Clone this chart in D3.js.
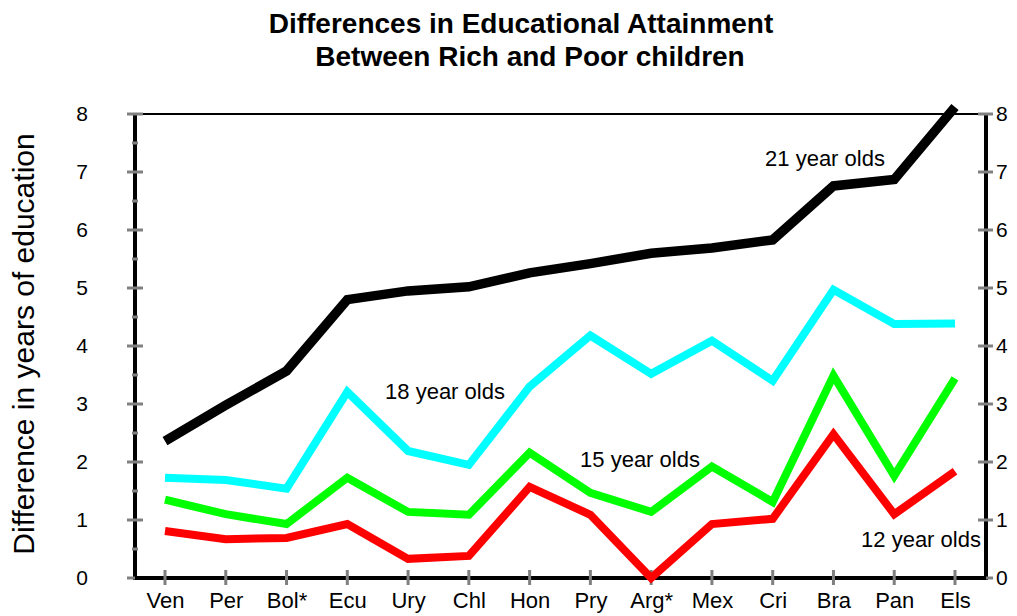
<!DOCTYPE html>
<html><head><meta charset="utf-8">
<script src="https://cdn.jsdelivr.net/npm/d3@7"></script>
<style>body{margin:0;background:#fff;} svg{display:block;font-family:"Liberation Sans",Arial,sans-serif;}</style>
</head><body>
<script>
const categories = ["Ven","Per","Bol*","Ecu","Ury","Chl","Hon","Pry","Arg*","Mex","Cri","Bra","Pan","Els"];
const age21 = [2.36,2.98,3.57,4.80,4.95,5.02,5.26,5.42,5.60,5.69,5.83,6.76,6.87,8.12];
const age18 = [1.73,1.69,1.54,3.21,2.19,1.95,3.30,4.18,3.52,4.09,3.40,4.97,4.38,4.39];
const age15 = [1.35,1.10,0.93,1.73,1.14,1.09,2.16,1.47,1.14,1.92,1.31,3.49,1.76,3.44];
const age12 = [0.81,0.67,0.69,0.93,0.33,0.38,1.57,1.09,0.00,0.93,1.02,2.48,1.10,1.84];
const yTicks = [0,1,2,3,4,5,6,7,8];
const seriesNames = ["21 year olds","18 year olds","15 year olds","12 year olds"];

const W=1017,H=616;
const svg=d3.select("body").append("svg").attr("width",W).attr("height",H);
const pL=135,pR=986,pT=114,pB=578;
const x=d3.scalePoint().domain(categories).range([165,955]);
const y=d3.scaleLinear().domain([0,8]).range([pB,pT]);
const FF="Liberation Sans, Arial, sans-serif";

// title
svg.append("text").attr("x",521).attr("y",33).attr("text-anchor","middle").attr("font-weight","bold").attr("font-size",28).text("Differences in Educational Attainment");
svg.append("text").attr("x",530).attr("y",66).attr("text-anchor","middle").attr("font-weight","bold").attr("font-size",28).text("Between Rich and Poor children");

// top border
svg.append("line").attr("x1",pL).attr("x2",pR).attr("y1",y(8)).attr("y2",y(8)).attr("stroke","#000").attr("stroke-width",2);

// left axis
const gl=svg.append("g").attr("transform",`translate(${pL},0)`);
gl.call(d3.axisLeft(y).tickValues(yTicks).tickFormat(d3.format("d")).tickSize(0).tickPadding(53));
gl.select(".domain").remove();
gl.selectAll("text").attr("font-size",21).attr("font-family",FF).attr("fill","#000").attr("text-anchor","middle");
gl.append("line").attr("x1",0).attr("x2",0).attr("y1",pT-1).attr("y2",pB+2).attr("stroke","#000").attr("stroke-width",4);
const halfTicks=d3.range(0.5,8,1);
gl.selectAll(".maj").data(yTicks).join("line").attr("class","maj").attr("x1",-8).attr("x2",8).attr("y1",d=>y(d)).attr("y2",d=>y(d)).attr("stroke","#808080").attr("stroke-width",3);
gl.selectAll(".min").data(halfTicks).join("line").attr("class","min").attr("x1",-3).attr("x2",3).attr("y1",d=>y(d)).attr("y2",d=>y(d)).attr("stroke","#808080").attr("stroke-width",3);

// right axis
const gr=svg.append("g").attr("transform",`translate(${pR},0)`);
gr.call(d3.axisRight(y).tickValues(yTicks).tickFormat(d3.format("d")).tickSize(0).tickPadding(10));
gr.select(".domain").remove();
gr.selectAll("text").attr("font-size",21).attr("font-family",FF).attr("fill","#000");
gr.append("line").attr("x1",0).attr("x2",0).attr("y1",pT-1).attr("y2",pB+2).attr("stroke","#000").attr("stroke-width",4);
gr.selectAll(".maj").data(yTicks).join("line").attr("class","maj").attr("x1",-8).attr("x2",7).attr("y1",d=>y(d)).attr("y2",d=>y(d)).attr("stroke","#808080").attr("stroke-width",3);

// bottom axis
const gb=svg.append("g").attr("transform",`translate(0,${pB})`);
gb.call(d3.axisBottom(x).tickSize(0).tickPadding(14));
gb.select(".domain").remove();
gb.selectAll("text").attr("font-size",22).attr("font-family",FF).attr("fill","#000");
gb.append("line").attr("x1",pL).attr("x2",pR).attr("y1",0).attr("y2",0).attr("stroke","#000").attr("stroke-width",4);
gb.selectAll(".ct").data(categories).join("line").attr("class","ct").attr("x1",d=>x(d)).attr("x2",d=>x(d)).attr("y1",-8).attr("y2",7).attr("stroke","#808080").attr("stroke-width",3);

// y title
svg.append("text").attr("transform","translate(34,344) rotate(-90)").attr("text-anchor","middle").attr("font-size",30).text("Difference in years of education");

// lines
const line=d3.line().x((d,i)=>x(categories[i])).y(d=>y(d));
const series=[[age12,"#ff0000",8],[age15,"#00ff00",8],[age18,"#00ffff",8],[age21,"#000000",9.5]];
series.forEach(([vals,col,w])=>{
  svg.append("path").datum(vals).attr("d",line).attr("fill","none").attr("stroke",col).attr("stroke-width",w).attr("stroke-linejoin","miter");
});

// labels
const labs=[[seriesNames[0],825,166],[seriesNames[1],445,399],[seriesNames[2],640,467],[seriesNames[3],921,547]];
labs.forEach(([t,lx,ly])=>svg.append("text").attr("x",lx).attr("y",ly).attr("text-anchor","middle").attr("font-size",22).text(t));
</script>
</body></html>
